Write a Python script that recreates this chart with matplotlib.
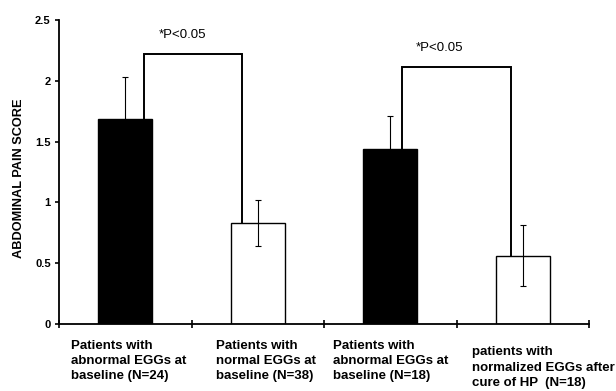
import matplotlib
matplotlib.use('Agg')
import matplotlib.pyplot as plt
import numpy as np

plt.rcParams['font.family'] = ['Liberation Sans', 'DejaVu Sans']

# data
groups = ['Patients with\nabnormal EGGs at\nbaseline (N=24)',
          'Patients with\nnormal EGGs at\nbaseline (N=38)',
          'Patients with\nabnormal EGGs at\nbaseline (N=18)',
          'patients with\nnormalized EGGs after\ncure of HP  (N=18)']
means = [1.69, 0.83, 1.44, 0.56]
errors = [0.34, 0.19, 0.27, 0.25]
fills = ['black', 'white', 'black', 'white']

# significance brackets: (left x, right x, height, label, label x)
brackets = [(0.14, 0.88, 2.22, '*P<0.05', 0.43),
            (2.09, 2.91, 2.11, '*P<0.05', 2.375)]

fig = plt.figure(figsize=(6.16, 3.91), dpi=100)
ax = fig.add_axes([0.0958, 0.1714, 0.8604, 0.7774])

x = np.arange(len(means))
ax.bar(x, means, width=0.41, color=fills, edgecolor='black', linewidth=1, zorder=2)
ax.errorbar(x, means, yerr=errors, fmt='none', ecolor='black', elinewidth=0.8,
            capsize=2.5, capthick=0.8, zorder=3)

for (xl, xr, h, txt, tx) in brackets:
    il = int(round(xl))
    ir = int(round(xr))
    ax.plot([xl, xl, xr, xr], [means[il], h, h, means[ir]], color='black', lw=1.4,
            zorder=4, solid_joinstyle='miter')
    ax.text(tx, h + 0.16, txt, ha='center', va='center', fontsize=9.5)

ax.set_xlim(-0.5, 3.5)
ax.set_ylim(0, 2.5)
ax.set_yticks([0, 0.5, 1, 1.5, 2, 2.5])
ax.set_yticklabels(['0', '0.5', '1', '1.5', '2', '2.5'], fontweight='bold', fontsize=8)
ax.set_xticks([-0.5, 0.5, 1.5, 2.5, 3.5])
ax.set_xticklabels([])
ax.tick_params(axis='y', direction='out', length=3, width=1.2, pad=3)
ax.tick_params(axis='x', direction='inout', length=6, width=1.2)

for s in ['top', 'right']:
    ax.spines[s].set_visible(False)
for s in ['left', 'bottom']:
    ax.spines[s].set_linewidth(1.3)

ax.set_ylabel('ABDOMINAL PAIN SCORE', fontweight='bold', fontsize=9.2, labelpad=5)
ax.yaxis.set_label_coords(-0.065, 0.48)

# category labels, left aligned under each bar
label_x = [-0.41, 0.685, 1.568, 2.62]
label_y = [-0.128, -0.128, -0.128, -0.185]
for lx, ly, g in zip(label_x, label_y, groups):
    ax.text(lx, ly, g, ha='left', va='top', fontsize=9.5, fontweight='bold',
            linespacing=1.38, clip_on=False)

fig.savefig('out.png', dpi=100, facecolor='white')
